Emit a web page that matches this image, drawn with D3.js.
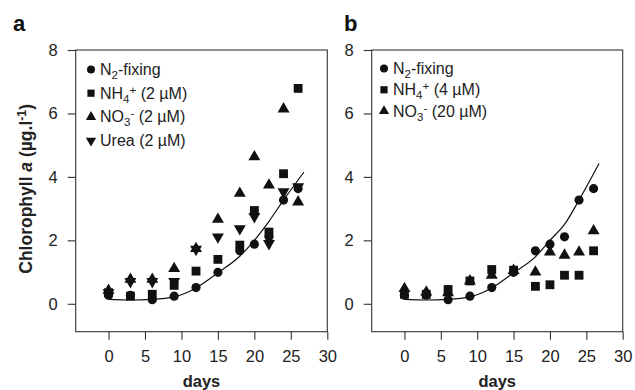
<!DOCTYPE html>
<html>
<head>
<meta charset="utf-8">
<script src="https://cdn.jsdelivr.net/npm/d3@7"></script>
<style>
  body { margin: 0; background: #fff; }
  svg { display: block; font-family: Arial, "Liberation Sans", sans-serif; }
</style>
</head>
<body>
<div id="chart"></div>
<script>
// sampling days
const days = [0, 3, 6, 9, 12, 15, 18, 20, 22, 24, 26];

// panel a
const n2Fixing = [0.27, 0.27, 0.13, 0.24, 0.51, 0.99, 1.67, 1.88, 2.11, 3.27, 3.63];
const nh4A = [0.35, 0.24, 0.3, 0.58, 1.03, 1.4, 1.85, 2.94, 2.26, 4.1, 6.79];
const no3A = [0.42, 0.77, 0.77, 1.11, 1.74, 2.66, 3.48, 4.63, 3.74, 6.14, 3.21];
const ureaA = [0.35, 0.7, 0.7, 0.7, 1.72, 2.11, 2.37, 2.75, 1.9, 3.53, 3.69];
const fitDaysA = [0, 3, 6, 9, 12, 15, 18, 20, 22, 24, 26.8];
const fitA = [0.14, 0.12, 0.14, 0.22, 0.5, 0.98, 1.5, 2.0, 2.6, 3.27, 4.15];

// panel b
const nh4B = [0.3, 0.3, 0.45, 0.72, 1.08, 1.06, 0.55, 0.6, 0.9, 0.9, 1.67];
const no3B = [0.48, 0.37, 0.35, 0.72, 0.9, 1.05, 1.0, 1.63, 1.53, 1.63, 2.3];
const fitDaysB = [0, 3, 6, 9, 12, 15, 18, 20, 22, 24, 26.75];
const fitB = [0.14, 0.12, 0.14, 0.22, 0.5, 0.98, 1.48, 2.0, 2.5, 3.27, 4.42];

const xTicks = [0, 5, 10, 15, 20, 25, 30];
const yTicks = [0, 2, 4, 6, 8];

const W = 635, H = 390;
const plotTop = 50, plotBottom = 331.7;

const svg = d3.select('#chart').append('svg')
  .attr('width', W).attr('height', H);

const sym = {
  circle: d3.symbol().type(d3.symbolCircle).size(66)(),
  square: d3.symbol().type(d3.symbolSquare).size(78)(),
  up: d3.symbol().type(d3.symbolTriangle).size(62)(),
  down: d3.symbol().type(d3.symbolTriangle).size(62)()
};
const symSmall = {
  circle: d3.symbol().type(d3.symbolCircle).size(50)(),
  square: d3.symbol().type(d3.symbolSquare).size(52)(),
  up: d3.symbol().type(d3.symbolTriangle).size(46)(),
  down: d3.symbol().type(d3.symbolTriangle).size(46)()
};

// write text with sub/superscripts
function rich(sel, parts) {
  let shift = 0;
  parts.forEach(p => {
    const target = p.s === 'sub' ? 4 : p.s === 'sup' ? -5 : 0;
    const t = sel.append('tspan').text(p.t).attr('dy', target - shift);
    if (p.s) t.attr('font-size', '0.72em');
    shift = target;
  });
  if (shift) sel.append('tspan').text('\u200b').attr('dy', -shift);
}

function panel(opt) {
  const x = d3.scaleLinear().domain([-4.5, 30]).range([opt.left, opt.right]);
  const y = d3.scaleLinear().domain([-0.88, 8]).range([plotBottom, plotTop]);
  const g = svg.append('g');

  // frame
  g.append('rect')
    .attr('x', opt.left).attr('y', plotTop)
    .attr('width', opt.right - opt.left).attr('height', plotBottom - plotTop)
    .attr('fill', 'none').attr('stroke', '#333').attr('stroke-width', 1.1);

  const xa = g.append('g').attr('transform', `translate(0,${plotBottom})`)
    .call(d3.axisBottom(x).tickValues(xTicks).tickSize(8).tickPadding(11));
  const ya = g.append('g').attr('transform', `translate(${opt.left},0)`)
    .call(d3.axisLeft(y).tickValues(yTicks).tickSize(8).tickPadding(10));
  [xa, ya].forEach(a => {
    a.select('.domain').remove();
    a.selectAll('line').attr('stroke', '#333').attr('stroke-width', 1.1);
    a.selectAll('text').attr('font-size', 16.5).attr('fill', '#222')
      .attr('font-family', 'Arial, "Liberation Sans", sans-serif');
  });

  g.append('text')
    .attr('x', (opt.left + opt.right) / 2).attr('y', 387)
    .attr('text-anchor', 'middle').attr('font-size', 16.5).attr('font-weight', 'bold')
    .attr('fill', '#222').text('days');

  g.append('text')
    .attr('x', opt.tagX).attr('y', 31)
    .attr('font-size', 22).attr('font-weight', 'bold').attr('fill', '#111')
    .text(opt.tag);

  // fitted curve
  const line = d3.line().x(d => x(d[0])).y(d => y(d[1])).curve(d3.curveMonotoneX);
  g.append('path')
    .datum(opt.fitDays.map((d, i) => [d, opt.fit[i]]))
    .attr('d', line).attr('fill', 'none').attr('stroke', '#111').attr('stroke-width', 1.2);

  // series points
  opt.series.slice().reverse().forEach(s => {
    g.append('g').selectAll('path')
      .data(days.map((d, i) => [d, s.values[i]]))
      .join('path')
      .attr('d', sym[s.shape])
      .attr('transform', d => `translate(${x(d[0])},${y(d[1])})${s.shape === 'down' ? ' rotate(180)' : ''}`)
      .attr('fill', '#111');
  });

  // legend
  const lg = g.append('g');
  opt.series.forEach((s, i) => {
    const yy = opt.legY + i * opt.legStep;
    lg.append('path')
      .attr('d', symSmall[s.shape])
      .attr('transform', `translate(${opt.legX},${yy})${s.shape === 'down' ? ' rotate(180)' : ''}`)
      .attr('fill', '#111');
    const t = lg.append('text')
      .attr('x', opt.legX + 9).attr('y', yy + 5.5)
      .attr('font-size', 16).attr('fill', '#222');
    rich(t, s.label);
  });
}

panel({
  left: 75.7, right: 327.3, tag: 'a', tagX: 13,
  fitDays: fitDaysA, fit: fitA,
  legX: 91, legY: 69.5, legStep: 23.7,
  series: [
    { shape: 'circle', values: n2Fixing, label: [{ t: 'N' }, { t: '2', s: 'sub' }, { t: '-fixing' }] },
    { shape: 'square', values: nh4A, label: [{ t: 'NH' }, { t: '4', s: 'sub' }, { t: '+', s: 'sup' }, { t: ' (2 \u00b5M)' }] },
    { shape: 'up', values: no3A, label: [{ t: 'NO' }, { t: '3', s: 'sub' }, { t: '-', s: 'sup' }, { t: ' (2 \u00b5M)' }] },
    { shape: 'down', values: ureaA, label: [{ t: 'Urea (2 \u00b5M)' }] }
  ]
});

panel({
  left: 371.7, right: 622.7, tag: 'b', tagX: 344,
  fitDays: fitDaysB, fit: fitB,
  legX: 384, legY: 68.5, legStep: 21.3,
  series: [
    { shape: 'circle', values: n2Fixing, label: [{ t: 'N' }, { t: '2', s: 'sub' }, { t: '-fixing' }] },
    { shape: 'square', values: nh4B, label: [{ t: 'NH' }, { t: '4', s: 'sub' }, { t: '+', s: 'sup' }, { t: ' (4 \u00b5M)' }] },
    { shape: 'up', values: no3B, label: [{ t: 'NO' }, { t: '3', s: 'sub' }, { t: '-', s: 'sup' }, { t: ' (20 \u00b5M)' }] }
  ]
});

// shared y label
const yl = svg.append('text')
  .attr('transform', `translate(32,${(plotTop + plotBottom) / 2 - 2}) rotate(-90)`)
  .attr('text-anchor', 'middle').attr('font-size', 17.5).attr('font-weight', 'bold')
  .attr('fill', '#222');
yl.append('tspan').text('Chlorophyll ');
yl.append('tspan').text('a').attr('font-style', 'italic');
yl.append('tspan').text(' (\u00b5g.l');
yl.append('tspan').text('-1').attr('font-size', '0.7em').attr('dy', -6);
yl.append('tspan').text(')').attr('dy', 6);
</script>
</body>
</html>
